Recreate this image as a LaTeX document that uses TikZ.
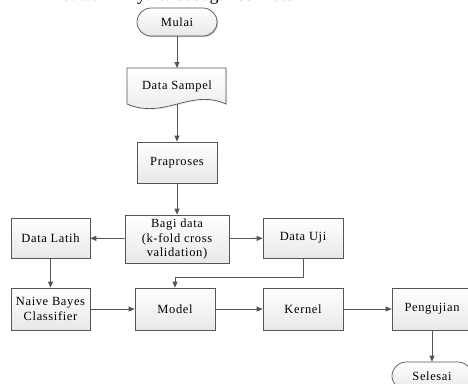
\documentclass[tikz,border=0pt]{standalone}
\usepackage{fontspec}
\setmainfont{Liberation Serif}[LetterSpace=5]
\newfontfamily\bodyfont{Liberation Serif}
\usetikzlibrary{arrows.meta,shadows,calc}
\definecolor{lc}{RGB}{85,85,85}
\tikzset{
  base/.style={draw=lc, line width=0.7pt, top color=white, bottom color=gray!18,
    drop shadow={shadow xshift=1pt, shadow yshift=-1pt, opacity=0.25, fill=black},
    align=center, font=\fontsize{12.5}{14.3}\selectfont, inner sep=1pt},
  procbox/.style={base, rectangle, minimum width=80pt, minimum height=42pt},
  termbox/.style={base, rectangle, rounded corners=14pt, minimum width=80pt, minimum height=28pt},
  conn/.style={draw=lc, line width=0.8pt, -{Triangle[length=6pt,width=5pt]}},
}
\begin{document}
\begin{tikzpicture}[x=1pt,y=-1pt]
\useasboundingbox (0,0) rectangle (468,383);
\begin{scope}
\clip (0,0) rectangle (468,383);
\node[anchor=base west, inner sep=0pt, font=\bodyfont\fontsize{18}{20}\selectfont] (hdr) at (62,0.5) {bawah ini yaitu sebagai berikut.};

\node[termbox] (mulai) at (177,22) {Mulai};

% document shape
\fill[lc!60, opacity=0.25] (128,69) -- (227,69) -- (227,105) .. controls (191,89) and (166,121) .. (128,105) -- cycle;
\path[draw=lc, line width=0.7pt, top color=white, bottom color=gray!18]
  (127,68) -- (226,68) -- (226,104) .. controls (190,88) and (165,120) .. (127,104) -- cycle;
\node[align=center, font=\fontsize{12.5}{14.3}\selectfont, minimum height=36pt, minimum width=99pt, inner sep=0pt, anchor=north] (ds) at (177,68) {\raisebox{3pt}{Data Sampel}};

\node[procbox, minimum height=41pt] (pra) at (177,162.5) {Praproses};
\node[procbox, minimum width=104pt, minimum height=48pt] (bagi) at (177,239) {Bagi data\\(k-fold cross\\validation)};
\node[procbox, minimum width=79pt, minimum height=40pt] (latih) at (50.5,238) {Data Latih};
\node[procbox, minimum height=40pt] (uji) at (303,238) {Data Uji};
\node[procbox, minimum width=79pt] (nb) at (50.5,309) {Naive Bayes\\Classifier};
\node[procbox] (model) at (175,309) {Model};
\node[procbox] (kernel) at (303,309) {Kernel};
\node[procbox] (peng) at (432,309) {Pengujian};
\node[termbox] (selesai) at (432,376) {Selesai};
\coordinate (bend) at (303,277);

\draw[conn] (mulai) -- (ds);
\draw[conn] (ds.south) -- (pra);
\draw[conn] (pra) -- (bagi);
\draw[conn] (bagi) -- (latih);
\draw[conn] (bagi) -- (uji);
\draw[conn] (latih) -- (nb);
\draw[conn] (uji) -- (bend) -| (model.north);
\draw[conn] (nb) -- (model);
\draw[conn] (model) -- (kernel);
\draw[conn] (kernel) -- (peng);
\draw[conn] (peng) -- (selesai);
\end{scope}
\end{tikzpicture}
\end{document}
